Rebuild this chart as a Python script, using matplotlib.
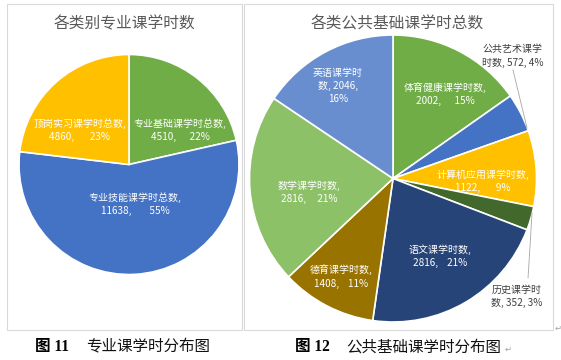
import matplotlib.pyplot as plt
from matplotlib.patches import Rectangle

plt.rcParams['font.family'] = ['Noto Sans CJK SC', 'DejaVu Sans']

# left chart: professional course hours
prof_names = ["专业基础课学时总数", "专业技能课学时总数", "顶岗实习课学时总数"]
prof_hours = [4510, 11638, 4860]
prof_pcts = [22, 55, 23]
prof_colors = ["#70AD47", "#4472C4", "#FFC000"]

# right chart: public basic course hours
pub_names = ["体育健康课学时数", "公共艺术课学时数", "计算机应用课学时数", "历史课学时数",
             "语文课学时数", "德育课学时数", "数学课学时数", "英语课学时数"]
pub_hours = [2002, 572, 1122, 352, 2816, 1408, 2816, 2046]
pub_pcts = [15, 4, 9, 3, 21, 11, 21, 16]
pub_colors = ["#70AD47", "#4472C4", "#FFC000", "#43682B",
              "#264478", "#997300", "#8CC168", "#698ED0"]

W, H = 561, 360
fig = plt.figure(figsize=(W / 100, H / 100), dpi=100)

# overlay axes in pixel units (y down)
base = fig.add_axes([0, 0, 1, 1])
base.set_xlim(0, W)
base.set_ylim(H, 0)
base.axis("off")


def pie_axes(cx, cy, r):
    ax = fig.add_axes([(cx - r) / W, (H - cy - r) / H, 2 * r / W, 2 * r / H])
    ax.set_xlim(-1, 1)
    ax.set_ylim(-1, 1)
    ax.axis("off")
    return ax


# panel frames
base.add_patch(Rectangle((7, 4), 235, 326, fill=False, ec="#D9D9D9", lw=0.8))
base.add_patch(Rectangle((244, 4), 309, 326, fill=False, ec="#D9D9D9", lw=0.8))

# titles
base.text(124, 24, "各类别专业课学时数", fontsize=11.3, color="#595959",
          ha="center", va="center")
base.text(397, 24, "各类公共基础课学时总数", fontsize=11.3, color="#595959",
          ha="center", va="center")

lab_fs = 7.2

# ---- left pie
ax1 = pie_axes(129, 164.5, 110)
ax1.pie(prof_hours, colors=prof_colors, startangle=90, counterclock=False,
        radius=1, wedgeprops=dict(edgecolor="white", linewidth=1.2),
        frame=False)
ax1.set_xlim(-1, 1)
ax1.set_ylim(-1, 1)

prof_texts = [
    f"{prof_names[0]},\n{prof_hours[0]},      {prof_pcts[0]}%",
    f"{prof_names[1]},\n{prof_hours[1]},        {prof_pcts[1]}%",
    f"{prof_names[2]},\n{prof_hours[2]},       {prof_pcts[2]}%",
]
prof_pos = [(0.464, 0.314), (0.055, -0.359), (-0.45, 0.314)]
for t, (x, y) in zip(prof_texts, prof_pos):
    ax1.text(x, y, t, fontsize=lab_fs, color="white", ha="center",
             va="center", linespacing=1.4)

# ---- right pie
ax2 = pie_axes(393, 178.5, 143.5)
ax2.pie(pub_hours, colors=pub_colors, startangle=90, counterclock=False,
        radius=1, wedgeprops=dict(edgecolor="white", linewidth=1.2),
        frame=False)
ax2.set_xlim(-1, 1)
ax2.set_ylim(-1, 1)

pub_texts = [
    f"{pub_names[0]},\n{pub_hours[0]},      {pub_pcts[0]}%",
    f"公共艺术课学\n时数, {pub_hours[1]}, {pub_pcts[1]}%",
    f"{pub_names[2]},\n{pub_hours[2]},       {pub_pcts[2]}%",
    f"历史课学时\n数, {pub_hours[3]}, {pub_pcts[3]}%",
    f"{pub_names[4]},\n{pub_hours[4]},    {pub_pcts[4]}%",
    f"{pub_names[5]},\n{pub_hours[5]},    {pub_pcts[5]}%",
    f"{pub_names[6]},\n{pub_hours[6]},     {pub_pcts[6]}%",
    f"英语课学时\n数, {pub_hours[7]},\n{pub_pcts[7]}%",
]
pub_pos = [(0.362, 0.589), (0.836, 0.854), (0.627, -0.017), (0.864, -0.819),
           (0.328, -0.540), (-0.362, -0.683), (-0.585, -0.098), (-0.383, 0.645)]
outside = {1, 3}
for i, (t, (x, y)) in enumerate(zip(pub_texts, pub_pos)):
    ax2.text(x, y, t, fontsize=lab_fs, color="#404040" if i in outside else "white",
             ha="center", va="center", linespacing=1.4)

# leader lines for the small slices
ax2.plot([0.836, 0.934], [0.757, 0.352], color="#A6A6A6", lw=0.6)
ax2.plot([0.969, 0.941], [-0.240, -0.693], color="#A6A6A6", lw=0.6)

# captions
cap_fam = ['Liberation Serif', 'Noto Sans CJK SC']
base.text(35, 347, "图 11", fontsize=11.2, fontweight="bold", family=cap_fam,
          ha="left", va="center")
base.text(86, 347, "专业课学时分布图", fontsize=11.2, color="#111111",
          ha="left", va="center")
base.text(295, 347, "图 12", fontsize=11.2, fontweight="bold", family=cap_fam,
          ha="left", va="center")
base.text(346, 347, "公共基础课学时分布图", fontsize=11.2, color="#111111",
          ha="left", va="center")
base.text(505, 349, "↵", fontsize=6, color="#A0A0A0", family="DejaVu Sans",
          ha="left", va="center")
base.text(555, 328, "↵", fontsize=6, color="#A0A0A0", family="DejaVu Sans",
          ha="left", va="center")

fig.savefig("out.png", dpi=100)
